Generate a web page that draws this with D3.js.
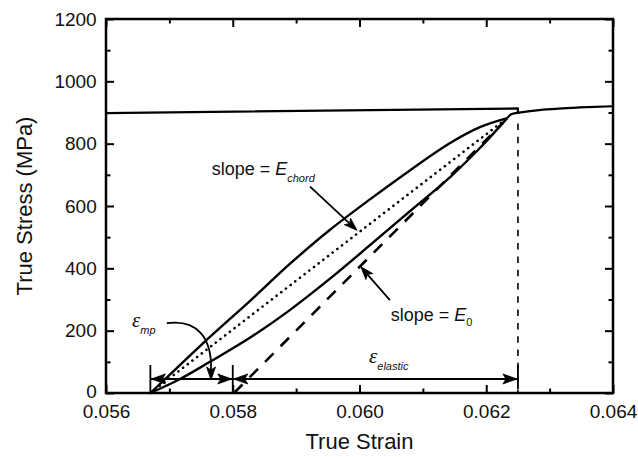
<!DOCTYPE html>
<html>
<head>
<meta charset="utf-8">
<script src="https://cdn.jsdelivr.net/npm/d3@7"></script>
<style>
  html, body { margin: 0; padding: 0; background: #fff; }
  svg { display: block; font-family: Arial, "Liberation Sans", sans-serif; }
</style>
</head>
<body>
<svg id="chart" width="638" height="457"></svg>
<script>
// Reload loop: loading branch (above the chord) and unloading branch (below it)
const upperStrain = [0.05670, 0.05717, 0.05764, 0.05827, 0.05890, 0.05953, 0.06017, 0.06080, 0.06143, 0.06190, 0.06233];
const upperStress = [0, 90, 180, 295, 414, 523, 622, 715, 802, 853, 882];
const lowerStrain = [0.05670, 0.05717, 0.05764, 0.05827, 0.05890, 0.05953, 0.06017, 0.06080, 0.06143, 0.06190, 0.06233];
const lowerStress = [0, 45, 100, 177, 266, 366, 475, 584, 693, 786, 882];

// Chord between the loop ends, and the initial elastic slope line
const chordStrain = [0.05670, 0.06233];
const chordStress = [0, 882];
const elasticStrain = [0.05802, 0.06226];
const elasticStress = [0, 866];

// Prior flow stress level and the flow curve after reloading
const priorStrain = [0.05600, 0.06250, 0.06250];
const priorStress = [898, 913, 896];
const flowStrain = [0.06233, 0.06240, 0.06260, 0.06280, 0.06320, 0.06360, 0.06400];
const flowStress = [882, 895, 902, 907, 913, 917, 920];

// Strain markers for the dimension arrows
const markStrain = [0.0567, 0.0580, 0.0625];
const arrowStress = 45;

// Axis ticks
const xMajorTicks = [0.056, 0.058, 0.060, 0.062, 0.064];
const xMinorTicks = [0.057, 0.059, 0.061, 0.063];
const yMajorTicks = [0, 200, 400, 600, 800, 1000, 1200];
const yMinorTicks = [100, 300, 500, 700, 900, 1100];

const svg = d3.select("#chart");
const L = 106, R = 613, T = 19, B = 393;

const x = d3.scaleLinear().domain([0.056, 0.064]).range([L, R]);
const y = d3.scaleLinear().domain([0, 1200]).range([B, T]);

const zip = (a, b) => a.map((v, i) => [v, b[i]]);
const line = d3.line().x(d => x(d[0])).y(d => y(d[1]));
const smooth = d3.line().x(d => x(d[0])).y(d => y(d[1])).curve(d3.curveCatmullRom.alpha(0.5));
const mono = d3.line().x(d => x(d[0])).y(d => y(d[1])).curve(d3.curveMonotoneX);

// Axes (ticks point inward on all four sides)
function styleAxis(g) {
  g.select(".domain").remove();
  g.selectAll(".tick line").attr("stroke", "#000").attr("stroke-width", 2);
  g.selectAll("text").attr("fill", "#111").style("font-size", "19px")
    .style("font-family", "Arial, 'Liberation Sans', sans-serif");
}
svg.append("g").attr("transform", `translate(0,${B})`)
  .call(d3.axisBottom(x).tickValues(xMajorTicks).tickSize(-8).tickPadding(12).tickFormat(d3.format(".3f")))
  .call(styleAxis);
svg.append("g").attr("transform", `translate(0,${B})`)
  .call(d3.axisBottom(x).tickValues(xMinorTicks).tickSize(-4.5).tickFormat(""))
  .call(styleAxis);
svg.append("g").attr("transform", `translate(0,${T})`)
  .call(d3.axisTop(x).tickValues(xMajorTicks).tickSize(-8).tickFormat(""))
  .call(styleAxis);
svg.append("g").attr("transform", `translate(0,${T})`)
  .call(d3.axisTop(x).tickValues(xMinorTicks).tickSize(-4.5).tickFormat(""))
  .call(styleAxis);
const yAxisG = svg.append("g").attr("transform", `translate(${L},0)`)
  .call(d3.axisLeft(y).tickValues(yMajorTicks).tickSize(-8).tickPadding(9.3).tickFormat(d3.format("d")))
  .call(styleAxis);
// keep the corner "0" clear of the first strain label
yAxisG.selectAll(".tick").filter(d => d === 0).select("text").attr("y", -2);
svg.append("g").attr("transform", `translate(${L},0)`)
  .call(d3.axisLeft(y).tickValues(yMinorTicks).tickSize(-4.5).tickFormat(""))
  .call(styleAxis);
svg.append("g").attr("transform", `translate(${R},0)`)
  .call(d3.axisRight(y).tickValues(yMajorTicks).tickSize(-8).tickFormat(""))
  .call(styleAxis);
svg.append("g").attr("transform", `translate(${R},0)`)
  .call(d3.axisRight(y).tickValues(yMinorTicks).tickSize(-4.5).tickFormat(""))
  .call(styleAxis);

svg.append("rect").attr("x", L).attr("y", T).attr("width", R - L).attr("height", B - T)
  .attr("fill", "none").attr("stroke", "#000").attr("stroke-width", 2.5);

// Axis titles
svg.append("text").attr("x", (L + R) / 2).attr("y", 449).attr("text-anchor", "middle")
  .style("font-size", "22px").attr("fill", "#111").text("True Strain");
svg.append("text").attr("transform", `translate(32,${(T + B) / 2}) rotate(-90)`)
  .attr("text-anchor", "middle").style("font-size", "22px").attr("fill", "#111").text("True Stress (MPa)");

// Curves
const curves = svg.append("g").attr("fill", "none").attr("stroke", "#000");
curves.append("path").attr("d", line(zip(priorStrain, priorStress))).attr("stroke-width", 2.2).attr("stroke-linejoin", "round");
curves.append("path").attr("d", mono(zip(flowStrain, flowStress))).attr("stroke-width", 2.2);
curves.append("path").attr("d", smooth(zip(upperStrain, upperStress))).attr("stroke-width", 2.4);
curves.append("path").attr("d", smooth(zip(lowerStrain, lowerStress))).attr("stroke-width", 2.4);
curves.append("path").attr("d", line(zip(chordStrain, chordStress))).attr("stroke-width", 2.6)
  .attr("stroke-dasharray", "0.1,5.8").attr("stroke-linecap", "round");
curves.append("path").attr("d", line(zip(elasticStrain, elasticStress))).attr("stroke-width", 2.6)
  .attr("stroke-dasharray", "12,10");

// Vertical marker at the reload strain
curves.append("line").attr("x1", x(markStrain[2])).attr("x2", x(markStrain[2]))
  .attr("y1", y(865)).attr("y2", B).attr("stroke-width", 1.6).attr("stroke-dasharray", "6.5,6.8");

// Dimension bars and arrows
const ann = svg.append("g").attr("stroke", "#000").attr("fill", "none");
markStrain.forEach((s, i) => {
  ann.append("line").attr("x1", x(s)).attr("x2", x(s))
    .attr("y1", y(arrowStress) - 14).attr("y2", i === 2 ? B - 4 : B).attr("stroke-width", 1.8);
});
ann.append("line").attr("x1", x(markStrain[0])).attr("x2", x(markStrain[2]))
  .attr("y1", y(arrowStress)).attr("y2", y(arrowStress)).attr("stroke-width", 2);

function arrowHead(tx, ty, angleDeg, len = 14, half = 5) {
  svg.append("path")
    .attr("d", `M0,0 L${-len},${-half} L${-len + 3},0 L${-len},${half} Z`)
    .attr("transform", `translate(${tx},${ty}) rotate(${angleDeg})`)
    .attr("fill", "#000").attr("stroke", "#000").attr("stroke-width", 0.8).attr("stroke-linejoin", "miter");
}
const ay = y(arrowStress);
arrowHead(x(markStrain[0]) + 1, ay, 180);
arrowHead(x(markStrain[1]) - 1, ay, 0);
arrowHead(x(markStrain[1]) + 1, ay, 180);
arrowHead(x(markStrain[2]) - 1, ay, 0);

// Pointer arrows for the slope labels
function pointer(s0, t0, s1, t1) {
  const x0 = x(s0), y0 = y(t0), x1 = x(s1), y1 = y(t1);
  const ang = Math.atan2(y1 - y0, x1 - x0) * 180 / Math.PI;
  ann.append("line").attr("x1", x0).attr("y1", y0)
    .attr("x2", x1 - 8 * Math.cos(ang * Math.PI / 180)).attr("y2", y1 - 8 * Math.sin(ang * Math.PI / 180))
    .attr("stroke-width", 1.8);
  arrowHead(x1, y1, ang, 13, 4.5);
}
pointer(0.05922, 662, 0.05996, 522);
pointer(0.06048, 298, 0.06002, 405);

// Curved pointer for the micro-plastic strain
const c0 = [x(0.05696), y(224)];
const tip = [x(0.057657), y(arrowStress) + 1];
ann.append("path")
  .attr("d", `M${c0[0]},${c0[1]} C${c0[0] + 30},${c0[1] - 4} ${tip[0] + 1},${c0[1] + 14} ${tip[0]},${tip[1] - 10}`)
  .attr("stroke-width", 1.8);
arrowHead(tip[0], tip[1], 90, 13, 4.5);

// Labels
function label(px, py, parts) {
  const t = svg.append("text").attr("x", px).attr("y", py).attr("fill", "#111");
  parts.forEach(p => {
    const s = t.append("tspan").text(p.text).style("font-size", (p.size || 18) + "px");
    if (p.italic) s.style("font-style", "italic");
    if (p.serif) s.style("font-family", "'Liberation Serif', serif");
    if (p.dy) s.attr("dy", p.dy);
  });
}
label(211.7, 175, [{ text: "slope = " }, { text: "E", italic: true }, { text: "chord", italic: true, size: 11, dy: 6.5 }]);
label(390.7, 320.7, [{ text: "slope = " }, { text: "E", italic: true }, { text: "0", size: 11, dy: 5 }]);
label(132, 327, [{ text: "ε", italic: true, serif: true, size: 21 }, { text: "mp", italic: true, size: 11, dy: 6.5 }]);
label(369, 363, [{ text: "ε", italic: true, serif: true, size: 21 }, { text: "elastic", italic: true, size: 11, dy: 7 }]);
</script>
</body>
</html>
